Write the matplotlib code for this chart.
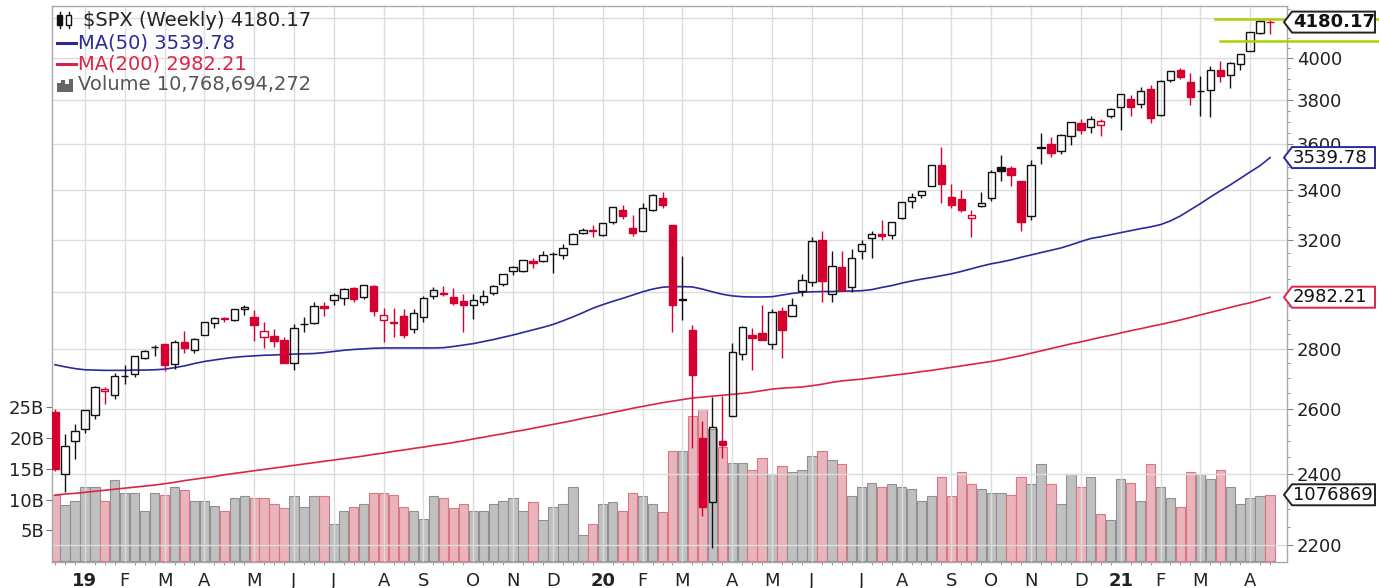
import numpy as np
import pandas as pd
import matplotlib
matplotlib.use('Agg')
import matplotlib.pyplot as plt
from matplotlib.patches import Polygon, Rectangle
from matplotlib.lines import Line2D
from matplotlib.ticker import FixedLocator, FixedFormatter, NullFormatter

plt.rcParams['font.family'] = ['DejaVu Sans']

# ---------------- data (weekly $SPX, weeks starting Mondays) ----------------
first_week = '2018-12-17'
prior_close = 2599.95

opens = [2590.8, 2400.6, 2498.9, 2535.6, 2580.3, 2657.9, 2645.0, 2706.5, 2712.4, 2769.3,
         2804.4, 2814.4, 2747.6, 2822.6, 2796.0, 2848.6, 2888.3, 2908.3, 2898.8, 2940.6,
         2908.9, 2840.2, 2841.9, 2830.0, 2751.5, 2885.8, 2889.8, 2951.4, 2971.4, 2979.8,
         3017.8, 2981.9, 3024.5, 2898.1, 2894.2, 2913.5, 2866.7, 2909.0, 2988.4, 2996.4,
         2983.5, 2967.1, 2955.0, 2965.8, 2996.5, 3032.1, 3079.0, 3080.3, 3117.9, 3117.4,
         3143.9, 3141.9, 3183.6, 3226.1, 3240.1, 3217.6, 3271.1, 3321.0, 3247.2, 3235.7,
         3318.3, 3369.0, 3257.6, 2974.3, 2863.9, 2508.6, 2320.6, 2498.1, 2578.3, 2782.5,
         2845.6, 2854.7, 2815.0, 2930.9, 2913.9, 3004.1, 3038.8, 3199.9, 2993.8, 3094.4,
         3018.6, 3155.3, 3205.1, 3224.3, 3219.8, 3288.3, 3356.0, 3380.9, 3418.1, 3507.4,
         3371.9, 3363.6, 3285.6, 3333.9, 3367.3, 3500.0, 3493.5, 3441.4, 3296.2, 3583.0,
         3600.2, 3566.8, 3634.2, 3694.7, 3675.3, 3684.3, 3723.0, 3764.6, 3803.1, 3781.9,
         3851.7, 3731.2, 3892.6, 3939.6, 3885.6, 3842.5, 3844.4, 3943.0, 3916.5, 3969.3,
         4034.4, 4124.7, 4179.8]
highs = [2601.1, 2520.3, 2553.4, 2597.8, 2675.5, 2672.4, 2716.7, 2744.0, 2775.7, 2794.2,
         2813.5, 2816.9, 2830.7, 2860.3, 2836.0, 2893.4, 2910.5, 2909.6, 2940.0, 2954.1,
         2937.3, 2892.2, 2868.9, 2840.5, 2884.0, 2910.6, 2964.2, 2964.0, 2995.8, 3017.8,
         3018.0, 3028.0, 3029.0, 2944.0, 2943.3, 2939.1, 2940.0, 2985.9, 3021.0, 3022.0,
         3016.0, 2992.5, 2993.3, 3008.0, 3027.4, 3067.0, 3097.8, 3120.5, 3127.6, 3154.3,
         3150.6, 3182.7, 3225.7, 3247.9, 3258.1, 3267.1, 3329.9, 3337.8, 3300.0, 3348.0,
         3385.1, 3393.5, 3259.8, 3136.7, 2882.6, 2563.0, 2637.0, 2641.4, 2818.6, 2879.2,
         2871.0, 2954.9, 2939.0, 2945.0, 2980.3, 3068.7, 3211.7, 3233.1, 3155.5, 3155.0,
         3165.8, 3197.5, 3235.3, 3279.3, 3272.0, 3352.0, 3387.9, 3399.5, 3509.2, 3588.1,
         3425.6, 3402.9, 3320.3, 3393.6, 3486.0, 3549.9, 3502.0, 3441.4, 3529.9, 3646.0,
         3628.5, 3644.0, 3700.0, 3712.4, 3726.7, 3711.2, 3760.2, 3826.7, 3823.6, 3861.5,
         3870.9, 3894.0, 3937.0, 3950.4, 3928.7, 3914.5, 3960.3, 3983.9, 3978.2, 4020.6,
         4129.5, 4191.3, 4194.2]
lows = [2408.6, 2346.6, 2444.0, 2524.9, 2569.1, 2617.3, 2631.6, 2681.8, 2703.2, 2764.0,
        2775.0, 2722.3, 2732.0, 2785.0, 2785.7, 2848.6, 2873.3, 2892.0, 2896.0, 2918.0,
        2825.4, 2801.4, 2805.5, 2750.5, 2728.8, 2858.0, 2887.3, 2912.5, 2952.2, 2952.0,
        2966.0, 2976.0, 2914.0, 2822.1, 2839.6, 2835.0, 2853.0, 2891.0, 2975.0, 2985.0,
        2952.0, 2855.9, 2905.0, 2952.0, 2991.0, 3023.0, 3066.0, 3077.0, 3091.4, 3113.0,
        3070.3, 3124.0, 3182.0, 3223.0, 3212.0, 3214.0, 3263.0, 3281.5, 3214.6, 3235.0,
        3315.0, 3328.5, 2855.8, 2901.0, 2478.9, 2280.5, 2191.9, 2447.5, 2578.0, 2761.0,
        2727.1, 2828.0, 2797.9, 2766.6, 2913.0, 2988.0, 3025.0, 2965.7, 2965.0, 3004.0,
        3000.0, 3127.0, 3127.7, 3200.0, 3204.0, 3284.0, 3328.0, 3369.0, 3418.0, 3349.6,
        3329.3, 3310.0, 3209.5, 3333.0, 3355.0, 3440.0, 3419.9, 3233.9, 3279.7, 3511.9,
        3543.0, 3555.0, 3594.4, 3645.8, 3647.0, 3636.5, 3715.0, 3662.7, 3724.0, 3760.0,
        3694.1, 3725.0, 3884.0, 3898.8, 3777.0, 3723.3, 3722.2, 3886.0, 3853.5, 3943.0,
        4034.0, 4118.0, 4118.4]
closes = [2416.6, 2485.7, 2531.9, 2596.3, 2670.7, 2664.8, 2706.5, 2707.9, 2775.6, 2792.7,
          2803.7, 2743.1, 2822.5, 2800.7, 2834.4, 2892.7, 2907.4, 2905.0, 2939.9, 2945.6,
          2881.4, 2859.5, 2826.1, 2752.1, 2873.3, 2887.0, 2950.5, 2941.8, 2990.4, 3013.8,
          2976.6, 3025.9, 2932.1, 2918.7, 2888.7, 2847.1, 2926.5, 2978.7, 3007.4, 2992.1,
          2961.8, 2952.0, 2970.3, 2986.2, 3022.6, 3066.9, 3093.1, 3120.5, 3110.3, 3141.0,
          3145.9, 3168.8, 3221.2, 3240.0, 3234.9, 3265.4, 3329.6, 3295.5, 3225.5, 3327.7,
          3380.2, 3337.8, 2954.2, 2972.4, 2711.0, 2304.9, 2541.5, 2488.7, 2789.8, 2874.6,
          2836.7, 2830.7, 2929.8, 2863.7, 2955.5, 3044.3, 3193.9, 3041.3, 3097.7, 3009.1,
          3130.0, 3185.0, 3224.7, 3215.6, 3271.1, 3351.3, 3372.9, 3397.2, 3508.0, 3427.0,
          3341.0, 3319.5, 3298.5, 3348.4, 3477.1, 3483.8, 3465.4, 3270.0, 3509.4, 3585.2,
          3557.5, 3638.4, 3699.1, 3663.5, 3709.4, 3703.1, 3756.1, 3824.7, 3768.3, 3841.5,
          3714.2, 3886.8, 3934.8, 3906.7, 3811.2, 3841.9, 3943.3, 3913.1, 3974.5, 4019.9,
          4128.8, 4185.5, 4180.17]
volume_b = [10.7, 9.1, 9.8, 12.1, 12.0, 9.8, 13.1, 11.1, 11.1, 8.2,
            11.1, 10.8, 12.1, 11.5, 9.8, 9.8, 8.9, 8.2, 10.2, 10.5,
            10.2, 10.2, 9.2, 8.6, 10.5, 8.8, 10.5, 10.5, 6.0, 8.2,
            8.8, 9.2, 11.1, 11.1, 10.8, 8.8, 8.2, 6.9, 10.5, 10.2,
            8.6, 9.2, 8.2, 8.2, 9.2, 9.8, 10.2, 8.2, 9.6, 6.6,
            8.8, 9.2, 12.1, 4.3, 6.0, 9.2, 9.6, 8.2, 11.1, 10.6,
            9.2, 7.9, 17.9, 17.9, 23.5, 24.7, 21.5, 18.5, 16.0, 16.0,
            14.8, 16.7, 14.1, 15.4, 14.4, 14.8, 17.1, 17.9, 16.4, 15.7,
            10.6, 12.1, 12.7, 12.1, 12.5, 12.0, 11.7, 9.7, 10.6, 13.7,
            10.6, 14.4, 12.5, 11.7, 11.1, 11.1, 10.8, 13.7, 12.5, 15.7,
            12.5, 9.2, 14.1, 12.1, 13.7, 7.6, 6.6, 13.4, 12.7, 9.8,
            15.7, 12.0, 10.2, 8.8, 14.4, 14.1, 13.4, 14.8, 12.1, 9.2,
            10.2, 10.5, 10.77]
ma50 = [2745, 2738, 2732, 2728, 2727, 2726, 2726, 2726, 2727, 2727,
        2728, 2730, 2735, 2741, 2749, 2756, 2761, 2766, 2770, 2773,
        2775, 2777, 2778, 2780, 2781, 2782, 2783, 2786, 2790, 2794,
        2797, 2799, 2801, 2802, 2802, 2802, 2802, 2802, 2802, 2803,
        2807, 2812, 2817, 2824, 2831, 2839, 2847, 2856, 2865, 2874,
        2884, 2897, 2911, 2926, 2942, 2955, 2967, 2978, 2990, 3002,
        3012, 3019, 3021, 3021, 3020, 3012, 3002, 2993, 2987, 2984,
        2983, 2983, 2984, 2990, 2996, 3000, 3002, 3003, 3003, 3004,
        3005, 3006, 3010, 3018, 3025, 3034, 3042, 3049, 3055, 3062,
        3069, 3078, 3088, 3098, 3107, 3114, 3122, 3132, 3141, 3150,
        3159, 3168, 3180, 3193, 3205, 3212, 3220, 3228, 3236, 3244,
        3251, 3260, 3275, 3295, 3320, 3345, 3372, 3398, 3423, 3450,
        3478, 3505, 3539.78]
ma200 = [2339, 2342, 2344, 2347, 2350, 2353, 2356, 2359, 2362, 2365,
         2368, 2372, 2376, 2381, 2385, 2389, 2393, 2398, 2402, 2406,
         2410, 2414, 2418, 2422, 2426, 2430, 2434, 2438, 2442, 2446,
         2450, 2454, 2459, 2463, 2468, 2472, 2477, 2481, 2486, 2490,
         2495, 2500, 2506, 2511, 2517, 2522, 2528, 2533, 2539, 2545,
         2551, 2557, 2563, 2570, 2576, 2582, 2589, 2595, 2602, 2608,
         2614, 2620, 2625, 2630, 2635, 2638, 2641, 2644, 2647, 2650,
         2654, 2659, 2664, 2667, 2669, 2671, 2675, 2680, 2686, 2691,
         2694, 2697, 2701, 2705, 2709, 2713, 2717, 2722, 2726, 2731,
         2736, 2741, 2746, 2751, 2756, 2762, 2769, 2776, 2784, 2792,
         2800, 2808, 2816, 2823, 2831, 2839, 2846, 2854, 2862, 2869,
         2877, 2884, 2892, 2900, 2909, 2918, 2927, 2936, 2945, 2954,
         2962, 2972, 2982.21]

price_ticks = [2200, 2400, 2600, 2800, 3000, 3200, 3400, 3600, 3800, 4000, 4200]
# 3000 and 4200 sit under the value tags in the original, so they carry no text
price_tick_labels = ['2200', '2400', '2600', '2800', '', '3200', '3400', '3600', '3800', '4000', '']
volume_ticks = [5, 10, 15, 20, 25]
volume_tick_labels = ['5B', '10B', '15B', '20B', '25B']
month_letters = ['J', 'F', 'M', 'A', 'M', 'J', 'J', 'A', 'S', 'O', 'N', 'D']
green_levels = [4194.2, 4085.0]

# ---------------- styling ----------------
RED = '#d4002f'
BLACK = '#111111'
NAVY = '#2a2a9c'
MARED = '#dd2448'
GRID = '#dcdcdc'
W, H = 1379, 588

O = np.array(opens); Hi = np.array(highs); Lo = np.array(lows); C = np.array(closes)
n = len(C)
x = np.arange(n)
weeks = pd.date_range(first_week, periods=n, freq='7D')
prev = np.concatenate([[prior_close], C[:-1]])
down = C < prev
filled = C < O
ccol = [RED if d else BLACK for d in down]
fcol = [(RED if d else BLACK) if f else 'none' for d, f in zip(down, filled)]

fig = plt.figure(figsize=(W / 100, H / 100), dpi=100)
fig.patch.set_facecolor('white')
ax = fig.add_axes([52 / W, 26 / H, (1287 - 52) / W, (562 - 6) / H])
axv = ax.twinx()
ax.set_zorder(2)
axv.set_zorder(1)
ax.patch.set_visible(False)

# volume
vface = ['#e9b0b9' if d else '#bdbdbd' for d in down]
vedge = ['#d8727f' if d else '#8c8c8c' for d in down]
axv.bar(x, volume_b, width=0.94, color=vface, edgecolor=vedge, linewidth=0.8, alpha=0.95)
axv.set_ylim(-0.16, 90.24)
axv.yaxis.set_ticks_position('left')
axv.set_yticks(volume_ticks)
axv.set_yticklabels(volume_tick_labels)
axv.tick_params(axis='y', length=4.5, width=0.8, color='#777777', labelsize=13,
                labelcolor='#222222', pad=1)
for s in axv.spines.values():
    s.set_visible(False)

# price axis
ax.set_yscale('log')
ax.set_ylim(2154.6, 4263.6)
ax.set_xlim(-0.3, 123.7)
ax.yaxis.set_major_locator(FixedLocator(price_ticks))
ax.yaxis.set_major_formatter(FixedFormatter(price_tick_labels))
minor = [v for v in range(2150, 4300, 50) if v not in price_ticks]
ax.yaxis.set_minor_locator(FixedLocator(minor))
ax.yaxis.set_minor_formatter(NullFormatter())
ax.yaxis.set_ticks_position('right')
ax.tick_params(axis='y', which='major', length=4, width=0.8, color='#888888',
               labelsize=13, labelcolor='#222222', pad=3)
ax.tick_params(axis='y', which='minor', length=2.5, width=0.7, color='#999999')

# months
mt_idx, mt_lab = [], []
for i in range(1, n):
    if weeks[i].month != weeks[i - 1].month:
        mt_idx.append(i)
        m = weeks[i].month
        mt_lab.append(weeks[i].strftime('%y') if m == 1 else month_letters[m - 1])
ax.set_xticks(mt_idx)
ax.set_xticklabels(mt_lab)
for t, lab in zip(ax.get_xticklabels(), mt_lab):
    if lab.isdigit():
        t.set_fontweight('bold')
ax.xaxis.set_minor_locator(FixedLocator(list(x)))
ax.tick_params(axis='x', which='major', length=0, labelsize=13, labelcolor='#222222', pad=7)
ax.tick_params(axis='x', which='minor', length=2.5, width=0.7, color='#999999')

ax.set_axisbelow(True)
ax.grid(True, which='major', color=GRID, linewidth=1.0)
for s in ax.spines.values():
    s.set_color('#a8a8a8')
    s.set_linewidth(1.0)

# moving averages
ax.plot(x, ma200, color=MARED, lw=1.2, zorder=2)
ax.plot(x, ma50, color=NAVY, lw=1.2, zorder=2)

# candles
body_top = np.maximum(O, C)
body_bot = np.minimum(O, C)
ax.vlines(x, body_top, Hi, colors=ccol, lw=1.0, zorder=3)
ax.vlines(x, Lo, body_bot, colors=ccol, lw=1.0, zorder=3)
ax.bar(x, C - O, bottom=O, width=0.74, facecolor=fcol, edgecolor=ccol, linewidth=1.0, zorder=4)

# green horizontal markers (extend into the label area)
fig.canvas.draw()
def ydisp(axis, v):
    return axis.transData.transform((0, v))[1]

for lv, x0 in zip(green_levels, [1215, 1220]):
    yf = ydisp(ax, lv) / H
    fig.add_artist(Line2D([x0 / W, 1.0], [yf, yf], transform=fig.transFigure,
                          color='#a6d300', lw=1.8, zorder=7))

# right-hand value tags
def tag(axis, val, text, edge, bold=False):
    yd = ydisp(axis, val)
    h = 10.5
    pts = [(1284, yd), (1292, yd + h), (1375, yd + h), (1375, yd - h), (1292, yd - h)]
    pts = [(px / W, py / H) for px, py in pts]
    fig.add_artist(Polygon(pts, closed=True, transform=fig.transFigure, facecolor='white',
                           edgecolor=edge, linewidth=1.4, zorder=8))
    fig.text(1293 / W, yd / H, text, ha='left', va='center', fontsize=13, color='#111111',
             fontweight='bold' if bold else 'normal', zorder=9)

tag(ax, closes[-1], f'{closes[-1]:.2f}', '#222222', bold=True)
tag(ax, ma50[-1], f'{ma50[-1]:.2f}', NAVY)
tag(ax, ma200[-1], f'{ma200[-1]:.2f}', MARED)
tag(axv, volume_b[-1], '1076869', '#222222')

# legend block (top-left)
def fx(px):
    return px / W
def fy(py):
    return 1 - py / H

# candle icon
for cx0, fillc in [(59.5, BLACK), (68.5, 'white')]:
    fig.add_artist(Line2D([fx(cx0), fx(cx0)], [fy(12), fy(28)], transform=fig.transFigure,
                          color=BLACK, lw=1.0, zorder=7))
    fig.add_artist(Rectangle((fx(cx0 - 2.5), fy(25)), 5 / W, 10 / H, transform=fig.transFigure,
                             facecolor=fillc, edgecolor=BLACK, lw=1.0, zorder=8))
fig.text(fx(83), fy(20), f'$SPX (Weekly) {closes[-1]:.2f}', fontsize=14, color='#222222',
         ha='left', va='center')
fig.add_artist(Line2D([fx(57), fx(76)], [fy(43), fy(43)], transform=fig.transFigure,
                      color=NAVY, lw=2.2, zorder=7))
fig.text(fx(78), fy(43), f'MA(50) {ma50[-1]:.2f}', fontsize=14, color=NAVY, ha='left', va='center')
fig.add_artist(Line2D([fx(57), fx(76)], [fy(64), fy(64)], transform=fig.transFigure,
                      color=MARED, lw=2.2, zorder=7))
fig.text(fx(78), fy(64), f'MA(200) {ma200[-1]:.2f}', fontsize=14, color=MARED, ha='left', va='center')
for bx, bh in [(57, 9), (61, 12), (65, 8), (69, 13)]:
    fig.add_artist(Rectangle((fx(bx), fy(92)), 3.5 / W, bh / H, transform=fig.transFigure,
                             facecolor='#666666', edgecolor='none', zorder=7))
fig.text(fx(78), fy(85), 'Volume {:,}'.format(10768694272), fontsize=14, color='#555555',
         ha='left', va='center')

fig.savefig('out.png', dpi=100)
